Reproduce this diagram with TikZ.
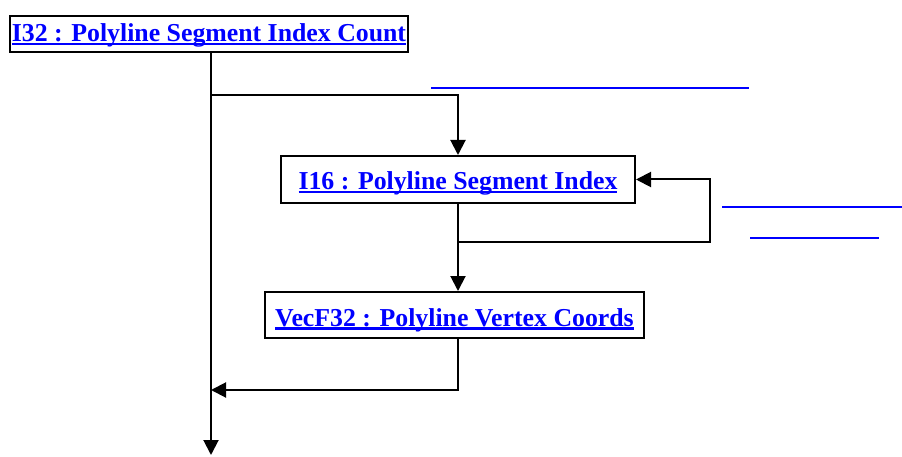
\documentclass[tikz,border=0pt]{standalone}
\usepackage{fontspec}
\setmainfont{Liberation Serif}
\usetikzlibrary{arrows.meta}
\newcommand\myul[1]{\setbox0\hbox{#1}\rlap{\rule[-3pt]{\wd0}{2.4pt}}\box0}
\begin{document}
\begin{tikzpicture}[x=1pt,y=-1pt,
 box/.style={draw, line width=2pt, inner sep=0pt, font=\bfseries\fontsize{25.8}{28}\selectfont, text=blue, text height=17pt, text depth=1pt},
 conn/.style={line width=2pt, -{Triangle[length=15pt,width=15pt]}},
 blank/.style={draw=blue, line width=2.4pt}]
\useasboundingbox (0,0) rectangle (902,457);
\node[box, minimum width=398pt, minimum height=36pt] (b1) at (209,34) {\myul{I32 : Polyline Segment Index Count}};
\node[box, minimum width=354pt, minimum height=47pt, text height=22pt] (b2) at (458,179.5) {\myul{I16 : Polyline Segment Index}};
\node[box, minimum width=379pt, minimum height=46pt, text height=24pt] (b3) at (454.5,315) {\myul{VecF32 : Polyline Vertex Coords}};
\coordinate (end) at (211,455);
\coordinate (j1) at (211,95);
\coordinate (j3) at (211,390);
\coordinate (lp) at (710,242);
\draw[conn] (b1.south -| end) -- (end);
\draw[conn] (j1) -- (j1 -| b2.north) -- (b2.north);
\draw[conn] (b2.south) |- (lp) |- (b2.east);
\draw[conn] (b2.south) -- (b2.south |- b3.north);
\draw[conn] (b3.south -| b2.south) |- (j3);
\draw[blank] (431,88) -- (749,88);
\draw[blank] (722,207) -- (902,207);
\draw[blank] (750,238) -- (879,238);
\end{tikzpicture}
\end{document}
